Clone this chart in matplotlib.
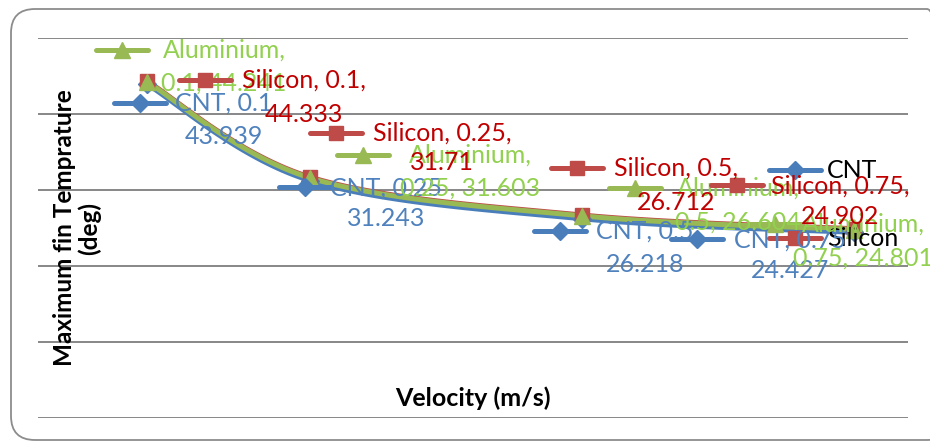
import numpy as np
import matplotlib
matplotlib.use("Agg")
import matplotlib.pyplot as plt
from matplotlib.lines import Line2D
from matplotlib.patches import FancyBboxPatch
from matplotlib.transforms import IdentityTransform

# velocity values and max fin temperature for each fin material
velocity = [0.1, 0.25, 0.5, 0.75]
cnt = [43.939, 31.243, 26.218, 24.427]
silicon = [44.333, 31.71, 26.712, 24.902]
aluminium = [44.241, 31.603, 26.604, 24.801]

W, H = 930, 442
FONT = ["Lato", "DejaVu Sans"]

series = {
    "CNT": dict(y=cnt, color="#4A7EBB", text="#4F81BD", marker="D", ms=9),
    "Silicon": dict(y=silicon, color="#BE4B48", text="#C00000", marker="s", ms=10),
    "Aluminium": dict(y=aluminium, color="#98B954", text="#92D050", marker="^", ms=11),
}

# hand placed data labels: key centre, text centre x, first line y, second line y (pixels)
label_layout = {
    "CNT": [(140, 103, 224, 103, 137), (305, 187, 386, 188, 218),
            (560, 231, 645, 231, 265), (697, 239, 790, 240, 270)],
    "Aluminium": [(122, 50, 224, 50, 83), (363, 155, 470, 155, 188),
                  (635, 188, 738, 188, 222), (775, 224, 863, 224, 258)],
    "Silicon": [(205, 80, 304, 80, 115), (336, 133, 442, 133, 163),
                (577, 168, 676, 168, 203), (737, 185, 840, 186, 217)],
}
legend_layout = {"CNT": 170, "Silicon": 238}


def fx(x):
    return x / W


def fy(y):
    return 1 - y / H


def label_lines(name, i):
    v, t = f"{velocity[i]:g}", f"{series[name]['y'][i]:g}"
    if name == "Aluminium":
        return "Aluminium,", f"{v}, {t}"
    if name == "Silicon":
        return f"Silicon, {v},", t
    return f"CNT, {v}", t


def smooth(xs, ys, n=40):
    '''Bezier curve through the points, similar to a spreadsheet smoothed line.'''
    p = np.column_stack([xs, ys]).astype(float)
    p = np.vstack([p[0], p, p[-1]])
    out = []
    for i in range(1, len(p) - 2):
        p0, p1, p2, p3 = p[i - 1], p[i], p[i + 1], p[i + 2]
        b1 = p1 + (p2 - p0) / 6
        b2 = p2 - (p3 - p1) / 6
        t = np.linspace(0, 1, n)[:, None]
        out.append((1 - t) ** 3 * p1 + 3 * (1 - t) ** 2 * t * b1
                   + 3 * (1 - t) * t ** 2 * b2 + t ** 3 * p2)
    c = np.vstack(out)
    return c[:, 0], c[:, 1]


def key(fig, x, y, s, z=5):
    fig.add_artist(Line2D([fx(x - 26), fx(x + 26)], [fy(y), fy(y)],
                          transform=fig.transFigure, color=s["color"], lw=3.6,
                          solid_capstyle="round", zorder=z))
    fig.add_artist(Line2D([fx(x)], [fy(y)], transform=fig.transFigure,
                          marker=s["marker"], ms=s["ms"], color=s["color"],
                          lw=0, zorder=z))


fig = plt.figure(figsize=(W / 100, H / 100), dpi=100)
# rounded chart border, in pixels
fig.add_artist(FancyBboxPatch((11, H - 440), 940, 431,
                              boxstyle="round,pad=0,rounding_size=24",
                              transform=IdentityTransform(), fc="none",
                              ec="#8C8C8C", lw=1.3, zorder=0))

ax = fig.add_axes([38 / W, 24 / H, 870 / W, 380 / H])
ax.set_xlim(0, 0.8)
ax.set_ylim(0, 50)
ax.set_yticks(np.arange(0, 51, 10))
ax.set_xticks([])
ax.tick_params(left=False, labelleft=False)
ax.grid(axis="y", color="#878787", lw=1.4)
ax.set_axisbelow(True)
for sp in ax.spines.values():
    sp.set_visible(False)
ax.patch.set_alpha(0)

for name in ["CNT", "Silicon", "Aluminium"]:
    s = series[name]
    cx, cy = smooth(velocity, s["y"])
    ax.plot(cx, cy, color=s["color"], lw=3.6, solid_capstyle="round", zorder=3)
    ax.plot(velocity, s["y"], lw=0, marker=s["marker"], ms=s["ms"],
            color=s["color"], zorder=4)

for name, ly in legend_layout.items():
    key(fig, 795, ly, series[name], z=4)
    fig.text(fx(827), fy(ly), name, ha="left", va="center", fontsize=18,
             family=FONT, color="black", zorder=4)

z = 5
for name in ["CNT", "Aluminium", "Silicon"]:
    s = series[name]
    for i, (kx, ky, tx, y1, y2) in enumerate(label_layout[name]):
        l1, l2 = label_lines(name, i)
        key(fig, kx, ky, s, z=z)
        fig.text(fx(tx), fy(y1), l1, ha="center", va="center", fontsize=18,
                 family=FONT, color=s["text"], zorder=z)
        fig.text(fx(tx), fy(y2), l2, ha="center", va="center", fontsize=18,
                 family=FONT, color=s["text"], zorder=z)
    z += 1

fig.text(fx(473), fy(398), "Velocity (m/s)", ha="center", va="center",
         fontsize=18, fontweight="bold", family=FONT)
fig.text(fx(77), fy(228), "Maximum fin Temprature\n(deg)", ha="center",
         va="center", rotation=90, fontsize=17.5, fontweight="bold",
         family=FONT, linespacing=1.1)

fig.savefig("out.png", dpi=100)
